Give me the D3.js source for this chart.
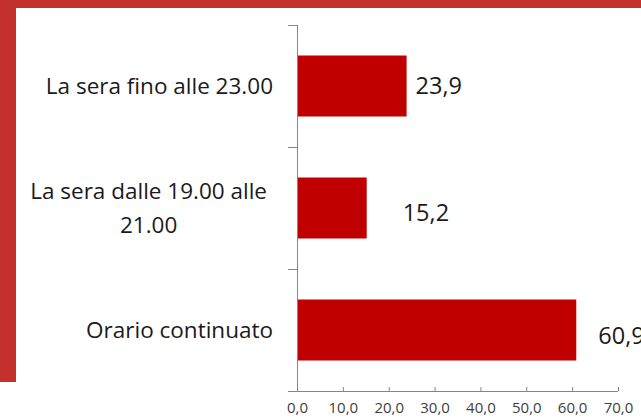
<!DOCTYPE html>
<html>
<head>
<meta charset="utf-8">
<script src="https://cdn.jsdelivr.net/npm/d3@7"></script>
<style>
  body { margin: 0; background: #fff; }
  svg { display: block; }
</style>
</head>
<body>
<svg id="chart" width="641" height="420"></svg>
<script>

// data
const categories = ['La sera fino alle 23.00', 'La sera dalle 19.00 alle|21.00', 'Orario continuato'];
const values = [23.9, 15.2, 60.9];
const value_labels = ['23,9', '15,2', '60,9'];
const x_ticks = [0, 10, 20, 30, 40, 50, 60, 70];

// labels were moved by hand in the original, keep the nudges apart
const label_nudge = [[9, 0], [36, 5], [22, 6]];

const font = '"Open Sans", "Noto Sans", sans-serif';
const margin = [28, 297, 25, 21]; // D, L, U, R
const W = 641, H = 420;

const svg = d3.select('#chart');

// 1. frame (red page border)
svg.append('rect').attr('x', 0).attr('y', 0).attr('width', W).attr('height', 8).attr('fill', '#c4302c');
svg.append('rect').attr('x', 0).attr('y', 0).attr('width', 16).attr('height', 382).attr('fill', '#c4302c');

// 2. scales
const x_scale = d3.scaleLinear()
  .domain([0, 70])
  .range([margin[1], W - margin[3] - 2]);

const y_scale = d3.scaleBand()
  .domain(d3.range(categories.length))
  .range([margin[2], H - margin[0] - 1])
  .paddingInner(0.5)
  .paddingOuter(0.25);

const y_edges = d3.range(categories.length + 1)
  .map((i) => margin[2] + i * y_scale.step());

// 3. bars
svg.append('g').attr('class', 'layer-bars')
  .selectAll('rect')
  .data(values)
  .join('rect')
  .attr('x', x_scale(0))
  .attr('y', (d, i) => y_scale(i))
  .attr('width', (d) => x_scale(d) - x_scale(0))
  .attr('height', y_scale.bandwidth())
  .attr('fill', '#c00000');

// 4. axes
const axis_bottom = d3.axisBottom(x_scale)
  .tickValues(x_ticks)
  .tickSize(-4)
  .tickPadding(11)
  .tickFormat((d) => d3.format('.1f')(d).replace('.', ','));

const g_x = svg.append('g')
  .attr('class', 'axis-bottom')
  .attr('transform', `translate(0, ${ y_edges[3] })`)
  .call(axis_bottom);
g_x.select('.domain').attr('stroke', '#868686').attr('d', `M${ x_scale(0) - 9 },0.5H${ x_scale(70) }`);
g_x.selectAll('.tick line').attr('stroke', '#868686');
g_x.selectAll('.tick text')
  .attr('fill', '#404040')
  .style('font-family', font)
  .style('font-size', '15px');

const g_y = svg.append('g').attr('class', 'axis-left');
g_y.append('line')
  .attr('x1', x_scale(0) + 0.5).attr('x2', x_scale(0) + 0.5)
  .attr('y1', y_edges[0]).attr('y2', y_edges[3])
  .attr('stroke', '#868686');
g_y.selectAll('line.tick')
  .data(y_edges.slice(0, 3))
  .join('line')
  .attr('class', 'tick')
  .attr('x1', x_scale(0) - 9).attr('x2', x_scale(0))
  .attr('y1', (d) => d + 0.5).attr('y2', (d) => d + 0.5)
  .attr('stroke', '#868686');

// 5. category labels
categories.forEach((c, i) => {
  const lines = c.split('|');
  const cy = y_scale(i) + y_scale.bandwidth() / 2;
  const t = svg.append('text')
    .attr('fill', '#1a1a1a')
    .style('font-family', font)
    .style('font-size', '22.5px');
  lines.forEach((ln, k) => {
    t.append('tspan')
      .attr('x', 0)
      .attr('y', cy + (k - (lines.length - 1) / 2) * 34)
      .attr('dy', '0.35em')
      .text(ln);
  });
  if(lines.length === 1){
    t.attr('text-anchor', 'end').selectAll('tspan').attr('x', x_scale(0) - 24);
  }else{
    let w = d3.max(t.selectAll('tspan').nodes(), (n) => n.getComputedTextLength());
    t.attr('text-anchor', 'middle').selectAll('tspan').attr('x', x_scale(0) - 30 - w / 2);
  }
});

// 6. value labels
svg.append('g').attr('class', 'layer-labels')
  .selectAll('text')
  .data(values)
  .join('text')
  .attr('x', (d, i) => x_scale(d) + label_nudge[i][0])
  .attr('y', (d, i) => y_scale(i) + y_scale.bandwidth() / 2 + label_nudge[i][1])
  .attr('dy', '0.35em')
  .attr('fill', '#1a1a1a')
  .style('font-family', font)
  .style('font-size', '23.5px')
  .text((d, i) => value_labels[i]);

</script>
</body>
</html>
